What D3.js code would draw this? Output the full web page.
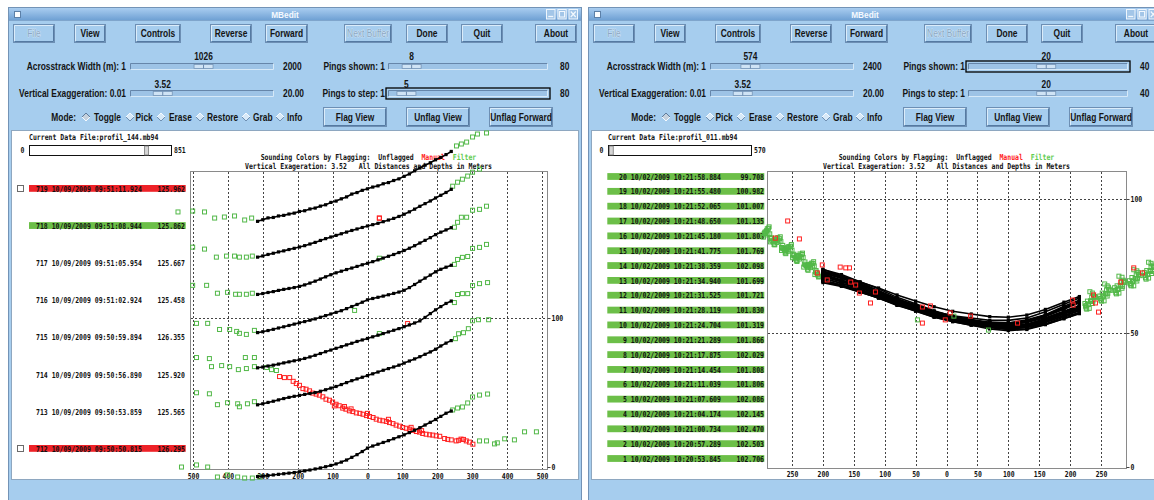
<!DOCTYPE html>
<html>
<head>
<meta charset="utf-8">
<title>MBedit</title>
<script src="https://cdn.jsdelivr.net/npm/d3@7/dist/d3.min.js"></script>
<style>
  html, body { margin: 0; padding: 0; background: #fff; overflow: hidden; }
  svg { display: block; }
  .mono { font-family: "DejaVu Sans Mono", "Liberation Mono", monospace; font-size: 6.5px; font-weight: bold; white-space: pre; }
</style>
</head>
<body>
<svg id="chart" width="1154" height="500"></svg>
<script>
// ================= DATA =================

// ---- left editor: profil_144.mb94, 8 pings shown ----
const leftFile = "profil_144.mb94";
const leftFileRecords = 851;
const leftPingIds = [719, 718, 717, 716, 715, 714, 713, 712];
const leftPingDates = ["10/09/2009", "10/09/2009", "10/09/2009", "10/09/2009", "10/09/2009", "10/09/2009", "10/09/2009", "10/09/2009"];
const leftPingTimes = ["09:51:11.924", "09:51:08.944", "09:51:05.954", "09:51:02.924", "09:50:59.894", "09:50:56.890", "09:50:53.859", "09:50:50.815"];
const leftPingDepths = ["125.962", "125.862", "125.667", "125.458", "126.355", "125.920", "125.565", "126.295"];
const leftPingStatus = ["manual", "filter", "none", "none", "none", "none", "none", "manual"];
const leftPingChecked = [true, false, false, false, false, false, false, true];

// across-track positions (m) of the unflagged beams
const leftBeamX = [-315, -300, -285, -270, -255, -240, -225, -210, -195, -180, -165, -150, -135, -120, -105, -90, -75, -60, -45, -30, -15, 0, 15, 30, 45, 60, 75, 90, 105, 120, 135, 150, 165, 180, 195, 210, 225, 240];

// unflagged soundings, metres above (+) / below (-) each ping's nadir
const leftUnflagged = [
  [-21.7, -20.6, -19.4, -19.1, -18.1, -17.7, -16.8, -16.2, -15.1, -14.6, -13.4, -12.8, -11.5, -10.6, -9.0, -8.1, -6.6, -5.3, -3.4, -2.4, -0.9, 0.1, 1.3, 2.1, 3.5, 4.3, 5.7, 6.8, 8.5, 10.1, 12.2, 14.1, 16.0, 17.6, 19.6, 21.2, 23.1, 25.2],
  [-20.8, -20.0, -19.0, -18.2, -17.3, -16.6, -15.7, -14.9, -14.0, -13.1, -12.0, -10.9, -9.6, -8.4, -7.3, -6.2, -5.1, -4.0, -2.9, -1.9, -0.9, 0.1, 1.0, 1.9, 3.0, 4.1, 5.2, 6.5, 8.0, 9.6, 11.4, 13.3, 15.1, 16.9, 18.9, 20.7, 22.6, 24.7],
  [-20.9, -20.3, -19.6, -19.0, -18.2, -17.5, -16.9, -16.3, -15.5, -14.5, -13.3, -12.0, -10.6, -9.1, -7.7, -6.4, -5.3, -4.2, -3.2, -2.1, -1.0, 0.0, 1.1, 2.3, 3.5, 4.7, 5.9, 7.2, 8.6, 10.1, 11.8, 13.6, 15.4, 17.2, 19.2, 20.9, 22.4, 23.9],
  [-21.6, -21.0, -20.2, -19.4, -18.5, -17.7, -16.8, -15.9, -15.0, -14.2, -13.3, -12.4, -11.3, -10.2, -9.1, -8.0, -6.9, -5.5, -4.1, -2.7, -1.2, 0.4, 1.3, 2.1, 2.9, 3.8, 4.7, 5.6, 6.8, 8.6, 10.7, 12.9, 15.0, 17.0, 19.2, 20.9, 22.3, 23.6],
  [-20.3, -19.8, -19.1, -18.5, -17.8, -17.0, -16.3, -15.6, -14.9, -14.0, -13.0, -11.9, -10.7, -9.5, -8.4, -7.2, -6.1, -4.9, -3.8, -2.6, -1.6, -0.6, 0.5, 1.6, 2.7, 3.8, 4.9, 6.0, 7.3, 8.5, 9.8, 11.2, 13.5, 16.1, 18.6, 20.8, 22.9, 24.5],
  [-20.2, -19.5, -18.6, -17.8, -16.9, -16.0, -15.2, -14.5, -13.9, -13.2, -12.6, -12.0, -11.1, -10.1, -9.0, -7.9, -6.6, -5.3, -4.0, -2.8, -1.7, -0.6, 0.6, 1.8, 3.0, 4.1, 5.2, 6.4, 7.8, 9.2, 10.6, 12.1, 13.7, 15.3, 17.1, 19.3, 21.2, 22.9],
  null,
  [-18.5, -18.2, -17.8, -17.4, -17.0, -16.6, -16.2, -15.8, -15.3, -14.7, -14.1, -13.4, -12.7, -11.9, -11.0, -10.0, -8.8, -7.4, -5.6, -3.8, -1.7, 0.6, 2.0, 3.2, 4.4, 5.6, 6.9, 8.2, 9.5, 11.0, 12.6, 14.3, 16.1, 17.9, 19.8, 21.9, 24.0, 25.5]
];

// filter-flagged soundings [across-track m, m from nadir]
const leftFiltered = [
  [[-543, -15.4], [-501, -14.8], [-467, -15.4], [-438, -19.5], [-410, -18.8], [-381, -18.1], [-352, -20.8], [-332, -19.5], [255, 28.9], [269, 30.2], [284, 31.5], [301, 34.9], [315, 36.9], [341, 37.6]],
  [[-501, -14.1], [-467, -15.4], [-433, -20.8], [-404, -20.1], [-381, -20.1], [-367, -20.8], [-347, -20.8], [-330, -20.1], [244, 26.8], [258, 29.5], [272, 31.5], [287, 33.6], [301, 36.2], [321, 38.3]],
  [[-501, -14.8], [-461, -14.8], [-430, -20.1], [-401, -19.5], [-378, -20.8], [-367, -20.8], [-347, -20.8], [-330, -20.1], [34, 3.4], [249, 24.2], [258, 27.5], [269, 30.9], [284, 30.9], [301, 35.6], [321, 36.2], [341, 38.3]],
  [[-490, -15.4], [-458, -15.4], [-424, -19.5], [-395, -19.5], [-375, -20.8], [-367, -22.1], [-347, -22.8], [-324, -20.1], [-37, -6.7], [249, 24.2], [258, 27.5], [272, 28.9], [287, 29.5], [301, 34.9], [321, 35.6], [341, 37.6]],
  [[-490, -13.4], [-453, -14.1], [-447, -19.5], [-418, -18.8], [-395, -19.5], [-370, -21.5], [-350, -13.4], [-347, -20.8], [-324, -13.4], [-324, -19.5], [-289, -20.1], [-275, -21.5], [-261, -22.1], [34, 2.7], [249, 23.5], [258, 28.9], [272, 29.5], [287, 29.5], [301, 34.9], [321, 36.2], [344, 36.9]],
  [[-490, -12.1], [-453, -12.8], [-430, -20.1], [-401, -18.8], [-372, -19.5], [-367, -21.5], [-344, -19.5], [-324, -18.1], [252, 24.2], [261, 27.5], [275, 28.2], [289, 30.9], [301, 36.2], [318, 36.9], [347, 36.9]],
  [[321, -19.5], [341, -19.5], [364, -21.5], [372, -20.8], [393, -18.1], [421, -18.8], [450, -13.4], [484, -13.4]],
  [[-533, -12.1], [-490, -10.7], [-458, -12.1], [-430, -18.8], [-401, -17.4], [-372, -18.8], [-352, -19.5], [-330, -19.5], [-309, -18.8], [244, 26.2], [258, 27.5], [272, 28.2], [287, 30.9], [301, 34.9], [321, 36.2], [344, 36.9]]
];

// manually flagged soundings [across-track m, m from nadir]
const leftManual = [
  [],
  [[34, 5.4]],
  [],
  [],
  [[115, 9.4]],
  [],
  [[-252, 23.7], [-238, 23.0], [-223, 23.0], [-213, 20.5], [-204, 19.0], [-195, 17.8], [-185, 15.6], [-176, 15.2], [-166, 14.1], [-157, 12.6], [-147, 11.9], [-138, 11.2], [-128, 10.1], [-119, 8.5], [-109, 7.8], [-100, 6.6], [-95, 4.0], [-90, 5.1], [-81, 4.1], [-71, 2.5], [-66, 3.6], [-62, 1.8], [-52, 0.7], [-47, 2.0], [-42, 0.2], [-32, -0.7], [-22, -1.0], [-13, -1.6], [-3, -2.5], [0, -1.0], [6, -3.1], [16, -3.8], [25, -4.9], [35, -5.6], [44, -6.0], [54, -6.4], [60, -5.0], [63, -7.2], [73, -7.9], [82, -8.9], [92, -9.6], [101, -10.5], [111, -11.0], [120, -11.6], [125, -10.4], [130, -12.4], [140, -13.2], [149, -13.6], [155, -12.6], [158, -14.5], [168, -15.0], [178, -15.4], [187, -15.6], [197, -16.1], [207, -16.4], [221, -17.9], [230, -18.5], [240, -18.8], [254, -19.5], [261, -19.1], [268, -18.3], [275, -18.5], [283, -19.5], [292, -20.3], [302, -21.7]],
  []
];

// ---- right editor: profil_011.mb94, 20 pings shown ----
const rightFile = "profil_011.mb94";
const rightFileRecords = 570;
const rightPingIds = [20, 19, 18, 17, 16, 15, 14, 13, 12, 11, 10, 9, 8, 7, 6, 5, 4, 3, 2, 1];
const rightPingDates = ["10/02/2009", "10/02/2009", "10/02/2009", "10/02/2009", "10/02/2009", "10/02/2009", "10/02/2009", "10/02/2009", "10/02/2009", "10/02/2009", "10/02/2009", "10/02/2009", "10/02/2009", "10/02/2009", "10/02/2009", "10/02/2009", "10/02/2009", "10/02/2009", "10/02/2009", "10/02/2009"];
const rightPingTimes = ["10:21:58.884", "10:21:55.480", "10:21:52.065", "10:21:48.650", "10:21:45.180", "10:21:41.775", "10:21:38.359", "10:21:34.940", "10:21:31.525", "10:21:28.119", "10:21:24.704", "10:21:21.289", "10:21:17.875", "10:21:14.454", "10:21:11.039", "10:21:07.609", "10:21:04.174", "10:21:00.734", "10:20:57.289", "10:20:53.845"];
const rightPingDepths = ["99.708", "100.982", "101.007", "101.135", "101.803", "101.769", "102.098", "101.699", "101.721", "101.830", "101.319", "101.866", "102.029", "101.808", "101.806", "102.086", "102.145", "102.470", "102.503", "102.706"];
const rightPingStatus = ["filter", "filter", "filter", "filter", "filter", "filter", "filter", "filter", "filter", "filter", "filter", "filter", "filter", "filter", "filter", "filter", "filter", "filter", "filter", "filter"];

const rightBeamX = [-200, -170, -140, -110, -80, -50, -20, 10, 40, 70, 100, 130, 160, 190, 215];

// unflagged soundings on the plot's metre scale
const rightUnflagged = [
  [73.0, 71.3, 69.0, 66.8, 64.2, 61.9, 59.8, 58.1, 57.1, 56.1, 55.9, 56.7, 58.8, 61.5, 63.6],
  [73.7, 71.8, 69.1, 66.5, 63.3, 60.9, 58.3, 56.2, 54.9, 53.5, 52.9, 53.3, 55.1, 57.4, 59.4],
  [70.4, 68.6, 66.8, 64.4, 62.1, 59.9, 58.0, 56.4, 55.6, 54.7, 54.7, 55.6, 57.9, 60.7, 63.1],
  [72.5, 70.7, 68.2, 65.8, 62.7, 60.5, 57.9, 56.3, 54.7, 53.8, 53.1, 53.9, 55.7, 58.1, 60.3],
  [69.8, 67.9, 66.0, 63.6, 61.2, 58.9, 56.9, 55.3, 54.4, 53.4, 53.3, 54.2, 56.4, 59.1, 61.5],
  [73.1, 71.1, 68.3, 65.7, 62.4, 60.0, 57.1, 55.3, 53.5, 52.4, 51.4, 52.1, 53.4, 56.0, 57.6],
  [70.5, 68.5, 66.4, 63.8, 61.3, 58.9, 56.7, 54.9, 53.9, 52.8, 52.5, 53.2, 55.3, 57.9, 60.1],
  [72.3, 70.4, 67.8, 65.3, 62.2, 59.9, 57.4, 55.4, 54.1, 52.8, 52.3, 52.9, 54.4, 57.1, 58.8],
  [69.3, 67.9, 65.7, 63.7, 61.0, 59.2, 56.9, 55.7, 54.5, 54.0, 53.6, 54.9, 56.8, 60.0, 62.2],
  [72.8, 70.5, 68.1, 65.2, 62.4, 59.7, 57.2, 55.1, 53.8, 52.4, 51.8, 52.2, 54.0, 56.3, 58.3],
  [71.0, 69.1, 67.1, 64.6, 62.1, 59.8, 57.7, 56.0, 55.0, 54.0, 53.8, 54.6, 56.7, 59.4, 61.6],
  [71.5, 69.7, 67.2, 64.8, 61.7, 59.5, 56.9, 55.3, 53.7, 52.8, 52.1, 52.9, 54.5, 57.3, 59.1],
  [69.6, 67.7, 65.8, 63.4, 61.0, 58.7, 56.7, 55.1, 54.2, 53.2, 53.1, 54.0, 56.2, 58.9, 61.3],
  [73.8, 71.3, 68.8, 65.8, 62.8, 60.1, 57.2, 55.1, 53.6, 52.0, 51.3, 51.6, 53.2, 55.3, 57.2],
  [71.3, 69.2, 67.1, 64.4, 61.8, 59.3, 57.1, 55.2, 54.1, 52.9, 52.6, 53.2, 55.2, 57.7, 59.9],
  [68.8, 67.4, 65.2, 63.2, 60.5, 58.7, 56.4, 55.2, 54.0, 53.5, 53.1, 54.4, 56.3, 59.5, 61.7],
  [72.0, 69.8, 67.5, 64.7, 61.9, 59.3, 56.9, 54.9, 53.6, 52.3, 51.8, 52.4, 53.9, 56.6, 58.4],
  [69.2, 67.6, 65.3, 63.1, 60.3, 58.3, 55.9, 54.5, 53.2, 52.5, 52.0, 53.1, 54.9, 57.9, 60.0],
  [71.9, 69.6, 67.2, 64.3, 61.5, 58.8, 56.3, 54.2, 52.9, 51.5, 50.9, 51.3, 53.1, 55.4, 57.4],
  [69.7, 67.7, 65.6, 63.0, 60.5, 58.1, 55.9, 54.3, 52.9, 52.2, 51.6, 52.6, 54.3, 57.3, 59.1]
];

// filter-flagged outer beams, port side [across-track m, metres]
const rightFilteredPort = [
  [[-214, 75.0], [-232, 78.2], [-250, 80.9], [-268, 84.1], [-286, 87.0]],
  [[-218, 76.1], [-237, 79.5], [-255, 82.2], [-273, 85.6], [-290, 88.9]],
  [[-210, 72.5], [-228, 75.4], [-247, 78.8], [-265, 81.5], [-283, 84.6]],
  [[-221, 75.6], [-240, 78.7], [-258, 82.0], [-276, 84.8], [-292, 87.9]],
  [[-208, 71.6], [-226, 74.9], [-244, 77.7], [-262, 80.8], [-280, 83.9]],
  [[-216, 75.9], [-234, 79.3], [-252, 82.4], [-270, 85.2], [-288, 89.1]],
  [[-212, 72.8], [-230, 75.7], [-249, 79.1], [-267, 81.9], [-285, 85.3]],
  [[-223, 75.4], [-241, 78.9], [-259, 81.6], [-277, 85.0], [-294, 87.6]],
  [[-206, 71.1], [-224, 74.4], [-242, 77.0], [-260, 80.3], [-278, 83.2]],
  [[-219, 75.8], [-237, 78.6], [-255, 82.1], [-273, 84.7], [-291, 88.2]],
  [[-211, 73.3], [-229, 76.5], [-247, 79.4], [-265, 82.7], [-283, 85.5]],
  [[-225, 75.2], [-243, 78.4], [-261, 81.3], [-279, 84.5], [-295, 87.1]],
  [[-209, 71.9], [-227, 75.2], [-245, 78.0], [-263, 81.4], [-281, 84.2]],
  [[-215, 76.6], [-233, 79.8], [-251, 83.0], [-269, 85.9], [-287, 89.6]],
  [[-220, 74.4], [-238, 77.6], [-256, 80.5], [-274, 83.8], [-292, 86.6]],
  [[-207, 70.9], [-225, 73.8], [-243, 77.2], [-261, 79.9], [-279, 83.0]],
  [[-222, 75.1], [-240, 78.3], [-258, 81.2], [-276, 84.6], [-293, 87.3]],
  [[-213, 71.8], [-231, 74.6], [-249, 78.1], [-267, 80.8], [-285, 84.0]],
  [[-217, 74.9], [-235, 78.1], [-253, 81.0], [-271, 84.3], [-289, 87.2]],
  [[-224, 73.4], [-242, 76.7], [-260, 79.6], [-278, 82.9], [-296, 85.8]]
];

// filter-flagged outer beams, starboard side [across-track m, metres]
const rightFilteredStbd = [
  [[232, 65.4], [256, 68.3], [279, 71.2], [303, 73.6], [327, 76.4]],
  [[224, 61.0], [248, 63.8], [272, 66.9], [296, 69.5], [320, 72.6]],
  [[236, 64.9], [260, 67.6], [284, 70.8], [308, 73.2], [331, 76.0]],
  [[228, 61.9], [252, 64.9], [276, 67.6], [300, 70.7], [324, 73.3]],
  [[240, 63.6], [263, 66.2], [287, 69.3], [311, 71.9], [335, 74.8]],
  [[226, 59.3], [250, 62.2], [274, 65.0], [298, 67.9], [322, 70.6]],
  [[233, 62.0], [257, 64.7], [281, 67.8], [305, 70.3], [329, 73.3]],
  [[229, 60.6], [253, 63.5], [277, 66.2], [301, 69.2], [325, 71.8]],
  [[238, 64.1], [262, 67.1], [286, 69.7], [310, 72.6], [334, 75.3]],
  [[225, 60.0], [249, 62.8], [273, 65.8], [297, 68.4], [321, 71.4]],
  [[235, 63.4], [259, 66.1], [283, 69.1], [307, 71.7], [331, 74.7]],
  [[230, 60.8], [254, 63.9], [278, 66.5], [302, 69.5], [326, 72.0]],
  [[241, 63.2], [265, 65.9], [289, 68.9], [313, 71.4], [337, 74.4]],
  [[227, 58.9], [251, 61.9], [275, 64.6], [299, 67.6], [323, 70.1]],
  [[234, 61.8], [258, 64.5], [282, 67.5], [306, 70.1], [330, 73.0]],
  [[239, 63.5], [263, 66.4], [287, 69.0], [311, 72.0], [335, 74.6]],
  [[226, 60.2], [250, 62.9], [274, 65.9], [298, 68.5], [322, 71.5]],
  [[237, 61.9], [261, 64.8], [285, 67.4], [309, 70.4], [333, 73.0]],
  [[231, 59.2], [255, 62.0], [279, 64.9], [303, 67.6], [327, 70.5]],
  [[236, 61.0], [260, 63.8], [284, 66.7], [308, 69.4], [332, 72.2]]
];

// isolated filter flags inside the swath
const rightFilteredInner = [[-47, 54.9], [12, 56.3], [68, 51.1]];

// manually flagged soundings [across-track m, metres]
const rightManual = [[-257, 91.8], [-277, 85.4], [-238, 85.1], [-201, 75.4], [-209, 72.4], [-193, 69.8], [-172, 74.6], [-163, 74.3], [-157, 74.3], [-155, 69.0], [-147, 67.9], [-141, 64.9], [-123, 61.2], [-115, 65.3], [-39, 59.7], [-26, 60.1], [6, 57.5], [39, 56.3], [-39, 53.7], [-2, 54.9], [115, 53.7], [204, 62.3], [205, 60.4], [238, 64.2], [241, 61.2], [246, 57.8], [282, 69.0], [303, 74.3], [317, 72.4]];

// ---- axis tick values ----
const leftXTicks = [-500, -400, -300, -200, -100, 0, 100, 200, 300, 400, 500];
const rightXTicks = [-250, -200, -150, -100, -50, 0, 50, 100, 150, 200, 250];
const leftYTicks = [0, 100];
const rightYTicks = [0, 50, 100];

// ---- control panel values ----
const buttonLabels = ["File", "View", "Controls", "Reverse", "Forward", "Next Buffer", "Done", "Quit", "About"];
const disabledButtons = ["File", "Next Buffer"];
const modeLabels = ["Toggle", "Pick", "Erase", "Restore", "Grab", "Info"];
const flagButtonLabels = ["Flag View", "Unflag View", "Unflag Forward"];
const leftSliderValues = { width: [1, 2000, 1026], exag: [0.01, 20.00, 3.52], shown: [1, 80, 8], step: [1, 80, 5] };
const rightSliderValues = { width: [1, 2400, 574], exag: [0.01, 20.00, 3.52], shown: [1, 40, 20], step: [1, 40, 20] };

// ================= DRAWING =================
const svg = d3.select("#chart");
const BODY = "#a6cdee";
const FLAG_COLOR = { unflagged: "#000", manual: "#ff2020", filter: "#52b848" };
const BAR_COLOR = { manual: "#ee2228", filter: "#6cbf48" };
const CHAR_W = 3.92;     // advance of the fixed-width plot font
const MONO_STRETCH = 1.25; // the plot font is tall and narrow

const defs = svg.append("defs");
const tg = defs.append("linearGradient").attr("id", "titleGrad").attr("x1", 0).attr("y1", 0).attr("x2", 0).attr("y2", 1);
tg.append("stop").attr("offset", "0%").attr("stop-color", "#a9cdf0");
tg.append("stop").attr("offset", "100%").attr("stop-color", "#6d9fd3");

function squeeze(sel, k) {
  sel.each(function () {
    const w = this.getComputedTextLength();
    if (w > 0) d3.select(this).attr("textLength", w * k).attr("lengthAdjust", "spacingAndGlyphs");
  });
  return sel;
}

function uiText(g, x, y, str, anchor, o = {}) {
  const t = g.append("text")
    .attr("x", x).attr("y", y).attr("dy", "0.36em")
    .attr("text-anchor", anchor || "start")
    .style("font-family", '"Liberation Sans", Arial, sans-serif')
    .style("font-weight", o.weight || "bold")
    .style("font-size", (o.size || 10.5) + "px")
    .attr("fill", o.fill || "#141414")
    .text(str);
  squeeze(t, o.k || 0.8);
  return t;
}

// fixed-width text, vertically stretched about its centre line
function mono(g, x, y, str, anchor, fill) {
  return g.append("text").attr("class", "mono")
    .attr("x", x).attr("y", y).attr("dy", "0.36em")
    .attr("transform", `translate(0,${y}) scale(1,${MONO_STRETCH}) translate(0,${-y})`)
    .attr("text-anchor", anchor || "start")
    .attr("fill", fill || "#111")
    .attr("textLength", str.length * CHAR_W)
    .attr("lengthAdjust", "spacingAndGlyphs")
    .text(str);
}

function button(g, x, y, w, h, label, disabled) {
  g.append("rect").attr("x", x + 0.5).attr("y", y + 0.5).attr("width", w - 1).attr("height", h - 1)
    .attr("fill", BODY).attr("stroke", "#6d8fb4");
  g.append("path").attr("d", `M${x + 1.5},${y + h - 2}V${y + 1.5}H${x + w - 2}`).attr("stroke", "#dbecfa").attr("fill", "none");
  g.append("path").attr("d", `M${x + w - 1.5},${y + 1.5}V${y + h - 1.5}H${x + 1.5}`).attr("stroke", "#557aa2").attr("fill", "none");
  if (disabled) {
    const t = g.append("text").attr("x", x + w / 2).attr("y", y + h / 2).attr("dy", "0.36em").attr("text-anchor", "middle")
      .style("font-family", '"Liberation Sans", Arial, sans-serif').style("font-size", "10.5px")
      .attr("fill", "#8aa6c2").style("paint-order", "stroke").attr("stroke", "#e6f2fc").attr("stroke-width", 0.6)
      .text(label);
    squeeze(t, 0.8);
  } else {
    uiText(g, x + w / 2, y + h / 2, label, "middle");
  }
}

function slider(g, x0, x1, y, range, focus) {
  const [mn, mx, v] = range;
  g.append("rect").attr("x", x0).attr("y", y).attr("width", x1 - x0).attr("height", 7).attr("fill", "#9dc3e6");
  g.append("path").attr("d", `M${x0 + 0.5},${y + 6.5}V${y + 0.5}H${x1 - 0.5}`).attr("stroke", "#6686aa").attr("fill", "none");
  g.append("path").attr("d", `M${x1 - 0.5},${y + 0.5}V${y + 6.5}H${x0 + 0.5}`).attr("stroke", "#d6e9f8").attr("fill", "none");
  const tw = 19;
  const frac = (v - mn) / (mx - mn);
  const tx = x0 + 2 + frac * (x1 - x0 - 4 - tw);
  g.append("rect").attr("x", tx).attr("y", y + 1.5).attr("width", tw).attr("height", 4).attr("fill", "#cfe3f5").attr("stroke", "#7695b7").attr("stroke-width", 0.8);
  g.append("line").attr("x1", tx + tw / 2).attr("x2", tx + tw / 2).attr("y1", y + 1.5).attr("y2", y + 5.5).attr("stroke", "#6a8aae");
  if (focus) {
    g.append("rect").attr("x", x0 - 2).attr("y", y - 2).attr("width", x1 - x0 + 4).attr("height", 11)
      .attr("fill", "none").attr("stroke", "#000").attr("stroke-width", 1.3);
  }
  return tx + tw / 2;
}

function diamond(g, cx, cy, selected) {
  const r = 4;
  g.append("path").attr("d", `M${cx - r},${cy}L${cx},${cy - r}L${cx + r},${cy}L${cx},${cy + r}Z`).attr("fill", selected ? "#c5d1dd" : "#d7e9f8");
  g.append("path").attr("d", `M${cx - r},${cy}L${cx},${cy - r}L${cx + r},${cy}`).attr("fill", "none").attr("stroke", selected ? "#5f7c9c" : "#f5faff");
  g.append("path").attr("d", `M${cx - r},${cy}L${cx},${cy + r}L${cx + r},${cy}`).attr("fill", "none").attr("stroke", selected ? "#f5faff" : "#6e8fb2");
}

// layout of the control panel, in window-relative pixels
const buttonSpans = [[5, 47], [66, 98], [127, 173], [202, 244], [257, 300], [336, 384], [398, 440], [453, 495], [527, 569]];
const flagSpans = [[315, 379], [398, 462], [481, 545]];
const modeDiamonds = [78, 122, 153, 192, 238, 272];
const modeTextX = [86, 127.5, 161, 199, 245, 279];

function drawWindow(cfg) {
  const g = svg.append("g");
  const ox = cfg.ox, W = cfg.width;
  const X = r => ox + r;
  const right = ox + W;

  // frame and body
  g.append("rect").attr("x", ox + 0.5).attr("y", 7.5).attr("width", W - 1).attr("height", 500)
    .attr("fill", BODY).attr("stroke", "#7393b6");
  // title bar
  g.append("rect").attr("x", ox + 1).attr("y", 8).attr("width", W - 2).attr("height", 12.5).attr("fill", "url(#titleGrad)");
  g.append("line").attr("x1", ox + 1).attr("x2", right - 1).attr("y1", 20.5).attr("y2", 20.5).attr("stroke", "#7fa5cc");
  g.append("rect").attr("x", ox + 6.5).attr("y", 11.5).attr("width", 6).attr("height", 6).attr("fill", "#fbfdff").attr("stroke", "#5c80a8");
  uiText(g, ox + 277, 14.3, "MBedit", "middle", { fill: "#f4f9ff", size: 9, k: 0.92 });
  [[-36, -26.5], [-24.6, -15.3], [-13.5, -4]].forEach(([a, b], i) => {
    const x = right + a, w = b - a;
    g.append("rect").attr("x", x + 0.5).attr("y", 9.5).attr("width", w - 1).attr("height", 9.5)
      .attr("fill", "#a3c6e8").attr("stroke", "#eef6fd");
    const cx = x + w / 2;
    if (i === 0) g.append("line").attr("x1", cx - 2.5).attr("x2", cx + 2.5).attr("y1", 16.5).attr("y2", 16.5).attr("stroke", "#f2f8fe").attr("stroke-width", 1.3);
    if (i === 1) g.append("rect").attr("x", cx - 2.5).attr("y", 11.5).attr("width", 5).attr("height", 5.5).attr("fill", "none").attr("stroke", "#f2f8fe");
    if (i === 2) g.append("path").attr("d", `M${cx - 2.5},${11.5}L${cx + 2.5},${17}M${cx + 2.5},${11.5}L${cx - 2.5},${17}`).attr("stroke", "#f2f8fe").attr("stroke-width", 1.2);
  });

  // push buttons
  buttonLabels.forEach((lab, i) => {
    const [a, b] = buttonSpans[i];
    button(g, X(a), 24, b - a, 19, lab, disabledButtons.includes(lab));
  });

  // sliders
  const sv = cfg.sliders;
  uiText(g, X(118), 66.5, "Acrosstrack Width (m):  " + sv.width[0], "end");
  let c = slider(g, X(122), X(266), 63, sv.width, false);
  uiText(g, c, 56.5, String(sv.width[2]), "middle");
  uiText(g, X(275), 66.5, String(sv.width[1]), "start");

  uiText(g, X(377), 66.5, "Pings shown:  " + sv.shown[0], "end");
  c = slider(g, X(380), X(540), 63, sv.shown, cfg.focus === "shown");
  uiText(g, c, 56.5, String(sv.shown[2]), "middle");
  uiText(g, X(552), 66.5, String(sv.shown[1]), "start");

  uiText(g, X(118), 93.5, "Vertical Exaggeration: " + sv.exag[0].toFixed(2), "end");
  c = slider(g, X(122), X(266), 90, sv.exag, false);
  uiText(g, c, 84.5, sv.exag[2].toFixed(2), "middle");
  uiText(g, X(275), 93.5, sv.exag[1].toFixed(2), "start");

  uiText(g, X(377), 93.5, "Pings to step:  " + sv.step[0], "end");
  c = slider(g, X(380), X(540), 90, sv.step, cfg.focus === "step");
  uiText(g, c, 84.5, String(sv.step[2]), "middle");
  uiText(g, X(552), 93.5, String(sv.step[1]), "start");

  // edit mode radio row
  uiText(g, X(68), 117, "Mode:", "end");
  modeLabels.forEach((lab, i) => {
    diamond(g, X(modeDiamonds[i]), 117, i === 0);
    uiText(g, X(modeTextX[i]), 117, lab, "start");
  });
  flagButtonLabels.forEach((lab, i) => {
    const [a, b] = flagSpans[i];
    button(g, X(a), 107, b - a, 20, lab, false);
  });

  // drawing area
  g.append("rect").attr("x", ox + 3.5).attr("y", 130.5).attr("width", W - 7).attr("height", 349)
    .attr("fill", "#fff").attr("stroke", "#8ea7c0");

  // current file and position slider
  const fg = cfg.file;
  mono(g, fg.x0, 137, "Current Data File:" + fg.name);
  g.append("rect").attr("x", fg.x0 + 0.5).attr("y", 145.5).attr("width", fg.x1 - fg.x0).attr("height", 10)
    .attr("fill", "#fff").attr("stroke", "#111");
  const pos = fg.x0 + 1 + (fg.first / fg.records) * (fg.x1 - fg.x0 - 5);
  g.append("rect").attr("x", pos).attr("y", 146).attr("width", 4).attr("height", 9).attr("fill", "#d6d6d6").attr("stroke", "#777").attr("stroke-width", 0.8);
  mono(g, fg.x0 - 6.5, 150.5, "0", "middle");
  mono(g, fg.x1 + 3, 150.5, String(fg.records), "start");
  return g;
}

drawWindow({
  ox: 8, width: 574, sliders: leftSliderValues, focus: "step",
  file: { name: leftFile, records: leftFileRecords, first: d3.min(leftPingIds), x0: 29, x1: 171 }
});
drawWindow({
  ox: 588, width: 574, sliders: rightSliderValues, focus: "shown",
  file: { name: rightFile, records: rightFileRecords, first: d3.min(rightPingIds), x0: 608, x1: 751 }
});

// ---------- shared plot pieces ----------
function plotTitle(g, cx) {
  const parts = [["Sounding Colors by Flagging:  Unflagged", "#111", 0], ["Manual", FLAG_COLOR.manual, 41], ["Filter", "#5fcc4f", 49]];
  const n = 55, s = cx - n * CHAR_W / 2;
  parts.forEach(p => mono(g, s + p[2] * CHAR_W, 157, p[0], "start", p[1]));
  const line2 = "Vertical Exageration: 3.52   All Distances and Depths in Meters";
  mono(g, cx - line2.length * CHAR_W / 2, 166, line2);
}

function styleAxisText(sel) {
  sel.attr("class", "mono").attr("fill", "#111")
    .attr("transform", `scale(1,${MONO_STRETCH})`)
    .each(function () { const s = this.textContent; d3.select(this).attr("textLength", s.length * CHAR_W).attr("lengthAdjust", "spacingAndGlyphs"); });
}

function plotFrame(g, x, yAxis, box, xTicks, yTicks, xLabelY) {
  g.append("rect").attr("x", box.x0 + 0.5).attr("y", box.y0 + 0.5).attr("width", box.x1 - box.x0).attr("height", box.y1 - box.y0)
    .attr("fill", "none").attr("stroke", "#8a8a8a");
  g.selectAll(null).data(xTicks).enter().append("line")
    .attr("x1", d => Math.round(x(d)) + 0.5).attr("x2", d => Math.round(x(d)) + 0.5)
    .attr("y1", box.y0 + 1).attr("y2", box.y1)
    .attr("stroke", "#444").attr("stroke-dasharray", "2,2");
  g.selectAll(null).data(yTicks.filter(d => d > 0)).enter().append("line")
    .attr("x1", box.x0 + 1).attr("x2", box.x1)
    .attr("y1", d => Math.round(yAxis(d)) + 0.5).attr("y2", d => Math.round(yAxis(d)) + 0.5)
    .attr("stroke", "#444").attr("stroke-dasharray", "2,2");

  const ax = g.append("g").attr("transform", `translate(0,${xLabelY})`)
    .call(d3.axisBottom(x).tickValues(xTicks).tickSize(0).tickPadding(0).tickFormat(d => String(Math.abs(d))));
  ax.select(".domain").remove();
  styleAxisText(ax.selectAll("text"));

  const ay = g.append("g").attr("transform", `translate(${box.x1 + 0.5},0)`)
    .call(d3.axisRight(yAxis).tickValues(yTicks).tickSize(3).tickPadding(1).tickFormat(d3.format("d")));
  ay.select(".domain").remove();
  ay.selectAll("line").attr("stroke", "#444");
  styleAxisText(ay.selectAll("text"));
}

function hollow(g, pts, color) {
  g.selectAll(null).data(pts).enter().append("rect")
    .attr("x", d => d[0] - 2).attr("y", d => d[1] - 2).attr("width", 4).attr("height", 4)
    .attr("fill", "none").attr("stroke", color).attr("stroke-width", 1);
}

function soundingLine(g, pts) {
  g.append("path").datum(pts).attr("d", d3.line()).attr("fill", "none").attr("stroke", "#000").attr("stroke-width", 1.6);
  g.selectAll(null).data(pts).enter().append("rect")
    .attr("x", d => d[0] - 1.6).attr("y", d => d[1] - 1.6).attr("width", 3.2).attr("height", 3.2).attr("fill", "#000");
}

// ---------- left plot ----------
{
  const g = svg.append("g");
  const box = { x0: 190, x1: 547, y0: 171, y1: 469 };
  const x = d3.scaleLinear().domain([-500, 500]).range([193, 542]);
  const yAxis = d3.scaleLinear().domain([0, 100]).range([467, 318]);
  const row = d3.scalePoint().domain(leftPingIds).range([189, 449]);
  const at = (id, rel) => row(id) + yAxis(rel) - yAxis(0);

  plotTitle(g, 368.5);
  plotFrame(g, x, yAxis, box, leftXTicks, leftYTicks, 473.5);

  // ping labels: number, date, time and nadir depth in one fixed-width line
  leftPingIds.forEach((id, i) => {
    const y = row(id);
    const st = leftPingStatus[i];
    if (st !== "none") g.append("rect").attr("x", 29).attr("y", y - 4).attr("width", 156.7).attr("height", 6.8).attr("fill", BAR_COLOR[st]);
    if (leftPingChecked[i]) g.append("rect").attr("x", 17.5).attr("y", y - 3.5).attr("width", 6).attr("height", 6).attr("fill", "#fff").attr("stroke", "#6b6b6b");
    const line = String(id).padStart(3) + " " + leftPingDates[i] + " " + leftPingTimes[i] + "    " + leftPingDepths[i];
    mono(g, 36, y, line);
  });

  // soundings
  leftPingIds.forEach((id, i) => {
    hollow(g, leftFiltered[i].map(d => [x(d[0]), at(id, d[1])]), FLAG_COLOR.filter);
    hollow(g, leftManual[i].map(d => [x(d[0]), at(id, d[1])]), FLAG_COLOR.manual);
  });
  leftPingIds.forEach((id, i) => {
    if (!leftUnflagged[i]) return;
    soundingLine(g, leftBeamX.map((bx, j) => [x(bx), at(id, leftUnflagged[i][j])]));
  });
  // manual flag drawn over the profile of ping 718
  hollow(g, leftManual[1].map(d => [x(d[0]), at(leftPingIds[1], d[1])]), FLAG_COLOR.manual);
}

// ---------- right plot ----------
{
  const g = svg.append("g");
  const box = { x0: 767, x1: 1126, y0: 171, y1: 468 };
  const x = d3.scaleLinear().domain([-250, 250]).range([792, 1101]);
  const yAxis = d3.scaleLinear().domain([0, 100]).range([467, 199]);
  const row = d3.scalePoint().domain(rightPingIds).range([176.7, 458.7]);

  plotTitle(g, 946.5);
  plotFrame(g, x, yAxis, box, rightXTicks, rightYTicks, 471.5);

  rightPingIds.forEach((id, i) => {
    const y = row(id);
    g.append("rect").attr("x", 607.3).attr("y", y - 3.6).attr("width", 157).attr("height", 6.8).attr("fill", BAR_COLOR[rightPingStatus[i]]);
    const line = String(id).padStart(2) + " " + rightPingDates[i] + " " + rightPingTimes[i] + rightPingDepths[i].padStart(11);
    mono(g, 619, y, line);
  });

  rightPingIds.forEach((id, i) => {
    hollow(g, rightFilteredPort[i].concat(rightFilteredStbd[i]).map(d => [x(d[0]), yAxis(d[1])]), FLAG_COLOR.filter);
  });
  rightPingIds.forEach((id, i) => {
    soundingLine(g, rightBeamX.map((bx, j) => [x(bx), yAxis(rightUnflagged[i][j])]));
  });
  hollow(g, rightFilteredInner.map(d => [x(d[0]), yAxis(d[1])]), FLAG_COLOR.filter);
  hollow(g, rightManual.map(d => [x(d[0]), yAxis(d[1])]), FLAG_COLOR.manual);
}
</script>
</body>
</html>
